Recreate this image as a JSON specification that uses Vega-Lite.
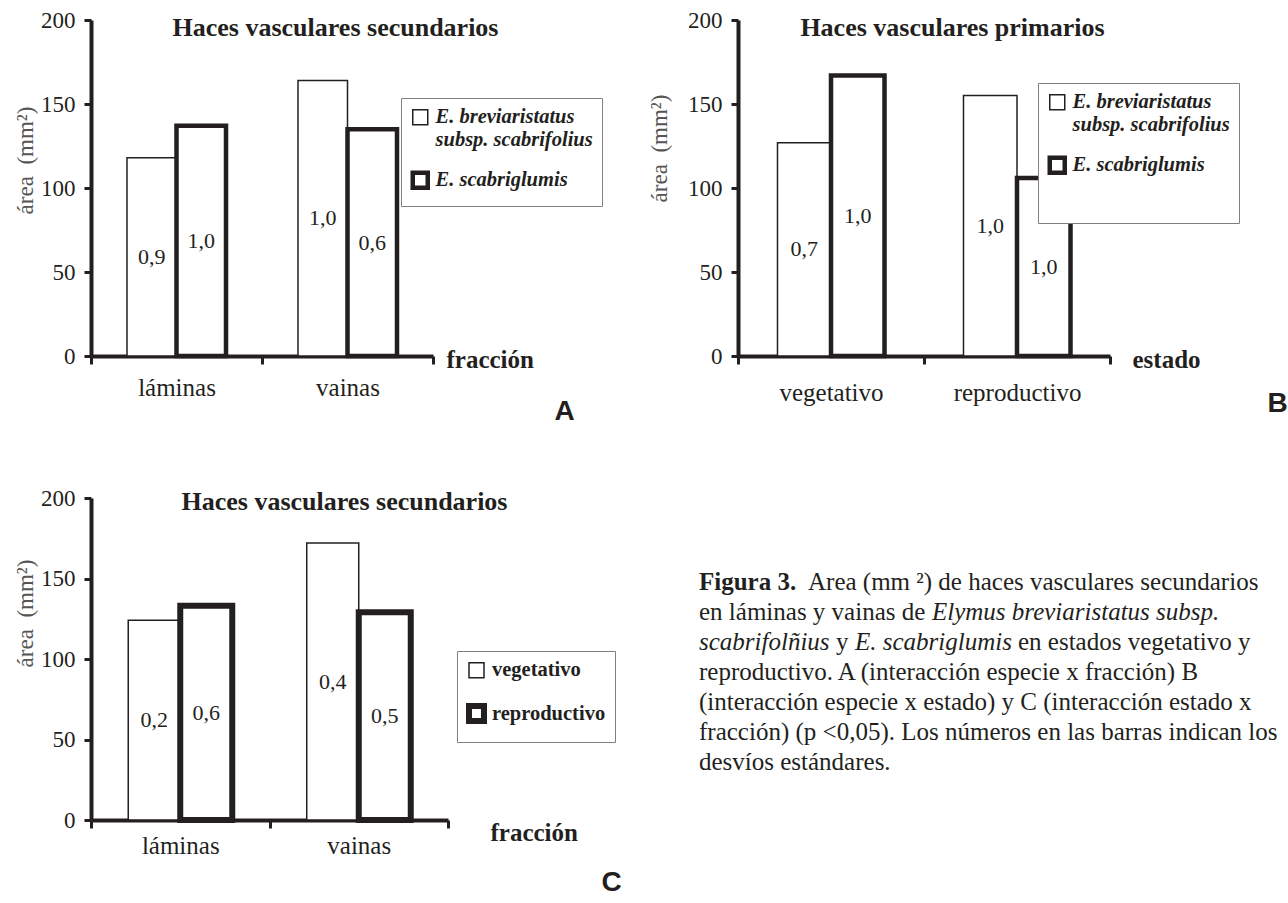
{
  "$schema": "https://vega.github.io/schema/vega-lite/v6.json",
  "background": "white",
  "autosize": {"type": "pad"},
  "padding": {"left": 14, "top": 9, "right": 0, "bottom": 0},
  "config": {
    "view": {"stroke": null},
    "font": "Liberation Serif",
    "axis": {
      "grid": false,
      "domainColor": "#231f20",
      "domainWidth": 4,
      "tickColor": "#231f20",
      "tickWidth": 3,
      "labelFont": "Liberation Serif",
      "labelColor": "#231f20",
      "titleFont": "Liberation Serif",
      "titleColor": "#231f20"
    },
    "axisY": {"tickSize": 7, "labelFontSize": 23, "labelPadding": 9},
    "axisX": {
      "labelAngle": 0,
      "labelFontSize": 25,
      "labelBaseline": "middle",
      "tickBand": "extent",
      "tickSize": 8,
      "titleFontSize": 25,
      "titleFontWeight": "bold",
      "titleAlign": "left",
      "titleBaseline": "middle"
    },
    "legend": {
      "orient": "none",
      "symbolType": "square",
      "symbolSize": 225,
      "symbolFillColor": "white",
      "labelFont": "Liberation Serif",
      "labelFontSize": 20.5,
      "labelFontWeight": "bold",
      "labelColor": "#231f20",
      "labelOffset": 5,
      "labelLimit": 400,
      "strokeColor": "#808080",
      "fillColor": "white",
      "padding": 9,
      "rowPadding": 12
    },
    "text": {"font": "Liberation Serif", "fontSize": 25, "color": "#231f20", "align": "left", "baseline": "middle"}
  },
  "datasets": {
    "A": [
      {"categoria": "láminas", "serie": "E. breviaristatus subsp. scabrifolius", "area": 118, "de": "0,9"},
      {"categoria": "láminas", "serie": "E. scabriglumis", "area": 137, "de": "1,0"},
      {"categoria": "vainas", "serie": "E. breviaristatus subsp. scabrifolius", "area": 164, "de": "1,0"},
      {"categoria": "vainas", "serie": "E. scabriglumis", "area": 135, "de": "0,6"}
    ],
    "B": [
      {"categoria": "vegetativo", "serie": "E. breviaristatus subsp. scabrifolius", "area": 127, "de": "0,7"},
      {"categoria": "vegetativo", "serie": "E. scabriglumis", "area": 167, "de": "1,0"},
      {"categoria": "reproductivo", "serie": "E. breviaristatus subsp. scabrifolius", "area": 155, "de": "1,0"},
      {"categoria": "reproductivo", "serie": "E. scabriglumis", "area": 106, "de": "1,0"}
    ],
    "C": [
      {"categoria": "láminas", "serie": "vegetativo", "area": 124, "de": "0,2"},
      {"categoria": "láminas", "serie": "reproductivo", "area": 133, "de": "0,6"},
      {"categoria": "vainas", "serie": "vegetativo", "area": 172, "de": "0,4"},
      {"categoria": "vainas", "serie": "reproductivo", "area": 129, "de": "0,5"}
    ],
    "cap_plain": [
      {"linea": 2, "texto": "en láminas y vainas de"},
      {"linea": 4, "texto": "reproductivo. A (interacción especie x fracción) B"},
      {"linea": 5, "texto": "(interacción especie x estado) y C (interacción estado x"},
      {"linea": 6, "texto": "fracción) (p <0,05). Los números en las barras indican los"},
      {"linea": 7, "texto": "desvíos estándares."}
    ],
    "cap_bold": [{"linea": 1, "texto": "Figura 3."}],
    "cap_l1": [{"linea": 1, "texto": "Area (mm ²) de haces vasculares secundarios"}],
    "cap_it2": [{"linea": 2, "texto": "Elymus breviaristatus subsp."}],
    "cap_it3a": [{"linea": 3, "texto": "scabrifolñius"}],
    "cap_y3": [{"linea": 3, "texto": "y"}],
    "cap_it3b": [{"linea": 3, "texto": "E. scabriglumis"}],
    "cap_end3": [{"linea": 3, "texto": "en estados vegetativo y"}]
  },
  "columns": 2,
  "spacing": {"row": 142, "column": 290},
  "bounds": "flush",
  "resolve": {
    "scale": {"strokeWidth": "independent", "stroke": "independent", "xOffset": "independent", "x": "independent", "y": "independent"},
    "legend": {"strokeWidth": "independent", "stroke": "independent"}
  },
  "concat": [
    {
      "width": 342,
      "height": 336,
      "data": {"name": "A"},
      "layer": [
        {
          "mark": {"type": "bar", "fill": "white"},
          "encoding": {
            "x": {"field": "categoria", "type": "nominal", "sort": ["láminas", "vainas"],
              "scale": {"paddingInner": 0, "paddingOuter": 0},
              "axis": {"title": "fracción", "labelPadding": 23, "titleX": 355, "titleY": 3}},
            "xOffset": {"field": "serie", "type": "nominal",
              "sort": ["E. breviaristatus subsp. scabrifolius", "E. scabriglumis"],
              "scale": {"paddingInner": 0, "paddingOuter": 0.727}},
            "y": {"field": "area", "type": "quantitative", "scale": {"domain": [0, 200]},
              "axis": {"values": [0, 50, 100, 150, 200], "title": "área\u00a0\u00a0(mm²)",
                "titleFontSize": 23, "titleFontWeight": "normal", "titleColor": "#555555",
                "titleBaseline": "middle", "titleAlign": "center", "titleAngle": 270,
                "titleX": -66, "titleY": 140}},
            "stroke": {"field": "serie", "type": "nominal",
              "scale": {"domain": ["E. breviaristatus subsp. scabrifolius", "E. scabriglumis"], "range": ["#231f20", "#231f20"]},
              "legend": {"title": null, "legendX": 310, "legendY": 78, "labelFontStyle": "italic",
                "labelExpr": "datum.label == 'E. breviaristatus subsp. scabrifolius' ? ['E. breviaristatus', 'subsp. scabrifolius'] : datum.label"}},
            "strokeWidth": {"field": "serie", "type": "nominal",
              "scale": {"domain": ["E. breviaristatus subsp. scabrifolius", "E. scabriglumis"], "range": [1.5, 4.5]},
              "legend": {"title": null, "legendX": 310, "legendY": 78, "labelFontStyle": "italic",
                "labelExpr": "datum.label == 'E. breviaristatus subsp. scabrifolius' ? ['E. breviaristatus', 'subsp. scabrifolius'] : datum.label"}}
          }
        },
        {
          "mark": {"type": "text", "fontSize": 22, "align": "center"},
          "encoding": {
            "x": {"field": "categoria", "type": "nominal", "sort": ["láminas", "vainas"],
              "axis": {"orient": "top", "domain": false, "ticks": false, "labels": false,
                "title": "Haces vasculares secundarios", "titleFontSize": 26, "titleFontWeight": "bold",
                "titleAlign": "center", "titleX": 244, "titleY": 7}},
            "xOffset": {"field": "serie", "type": "nominal",
              "sort": ["E. breviaristatus subsp. scabrifolius", "E. scabriglumis"]},
            "y": {"field": "area", "type": "quantitative", "scale": {"domain": [0, 400]},
              "axis": {"orient": "right", "domain": false, "ticks": false, "labels": false, "title": "A",
                "titleFont": "Liberation Sans", "titleFontSize": 28, "titleFontWeight": "bold", "titleColor": "#231f20",
                "titleAngle": 0.01, "titleAlign": "center", "titleBaseline": "middle", "titleX": 131, "titleY": 392}},
            "text": {"field": "de"}
          }
        }
      ],
      "resolve": {"scale": {"y": "independent"}, "axis": {"x": "independent", "y": "independent"}}
    },
    {
      "width": 372,
      "height": 336,
      "data": {"name": "B"},
      "layer": [
        {
          "mark": {"type": "bar", "fill": "white"},
          "encoding": {
            "x": {"field": "categoria", "type": "nominal", "sort": ["vegetativo", "reproductivo"],
              "scale": {"paddingInner": 0, "paddingOuter": 0},
              "axis": {"title": "estado", "labelPadding": 28, "titleX": 394, "titleY": 3}},
            "xOffset": {"field": "serie", "type": "nominal",
              "sort": ["E. breviaristatus subsp. scabrifolius", "E. scabriglumis"],
              "scale": {"paddingInner": 0, "paddingOuter": 0.738}},
            "y": {"field": "area", "type": "quantitative", "scale": {"domain": [0, 200]},
              "axis": {"values": [0, 50, 100, 150, 200], "title": "área\u00a0\u00a0(mm²)",
                "titleFontSize": 23, "titleFontWeight": "normal", "titleColor": "#555555",
                "titleBaseline": "middle", "titleAlign": "center", "titleAngle": 270,
                "titleX": -79, "titleY": 128}},
            "stroke": {"field": "serie", "type": "nominal",
              "scale": {"domain": ["E. breviaristatus subsp. scabrifolius", "E. scabriglumis"], "range": ["#231f20", "#231f20"]},
              "legend": {"legendX": 300, "legendY": 63, "labelFontStyle": "italic",
                "title": "\u00a0", "titleOrient": "bottom", "titleFontSize": 18, "titlePadding": 14,
                "labelExpr": "datum.label == 'E. breviaristatus subsp. scabrifolius' ? ['E. breviaristatus', 'subsp. scabrifolius'] : datum.label"}},
            "strokeWidth": {"field": "serie", "type": "nominal",
              "scale": {"domain": ["E. breviaristatus subsp. scabrifolius", "E. scabriglumis"], "range": [1.5, 4.5]},
              "legend": {"legendX": 300, "legendY": 63, "labelFontStyle": "italic",
                "title": "\u00a0", "titleOrient": "bottom", "titleFontSize": 18, "titlePadding": 14,
                "labelExpr": "datum.label == 'E. breviaristatus subsp. scabrifolius' ? ['E. breviaristatus', 'subsp. scabrifolius'] : datum.label"}}
          }
        },
        {
          "mark": {"type": "text", "fontSize": 22, "align": "center"},
          "encoding": {
            "x": {"field": "categoria", "type": "nominal", "sort": ["vegetativo", "reproductivo"],
              "axis": {"orient": "top", "domain": false, "ticks": false, "labels": false,
                "title": "Haces vasculares primarios", "titleFontSize": 26, "titleFontWeight": "bold",
                "titleAlign": "center", "titleX": 214, "titleY": 7}},
            "xOffset": {"field": "serie", "type": "nominal",
              "sort": ["E. breviaristatus subsp. scabrifolius", "E. scabriglumis"]},
            "y": {"field": "area", "type": "quantitative", "scale": {"domain": [0, 400]},
              "axis": {"orient": "right", "domain": false, "ticks": false, "labels": false, "title": "B",
                "titleFont": "Liberation Sans", "titleFontSize": 28, "titleFontWeight": "bold", "titleColor": "#231f20",
                "titleAngle": 0.01, "titleAlign": "center", "titleBaseline": "middle", "titleX": 167, "titleY": 384}},
            "text": {"field": "de"}
          }
        }
      ],
      "resolve": {"scale": {"y": "independent"}, "axis": {"x": "independent", "y": "independent"}}
    },
    {
      "width": 357,
      "height": 322,
      "data": {"name": "C"},
      "layer": [
        {
          "mark": {"type": "bar", "fill": "white"},
          "encoding": {
            "x": {"field": "categoria", "type": "nominal", "sort": ["láminas", "vainas"],
              "scale": {"paddingInner": 0, "paddingOuter": 0},
              "axis": {"title": "fracción", "labelPadding": 17, "titleX": 399, "titleY": 12}},
            "xOffset": {"field": "serie", "type": "nominal",
              "sort": ["vegetativo", "reproductivo"],
              "scale": {"paddingInner": 0, "paddingOuter": 0.716}},
            "y": {"field": "area", "type": "quantitative", "scale": {"domain": [0, 200]},
              "axis": {"values": [0, 50, 100, 150, 200], "title": "área\u00a0\u00a0(mm²)",
                "titleFontSize": 23, "titleFontWeight": "normal", "titleColor": "#555555",
                "titleBaseline": "middle", "titleAlign": "center", "titleAngle": 270,
                "titleX": -66, "titleY": 115}},
            "stroke": {"field": "serie", "type": "nominal",
              "scale": {"domain": ["vegetativo", "reproductivo"], "range": ["#231f20", "#231f20"]},
              "legend": {"title": null, "legendX": 366, "legendY": 153, "rowPadding": 13}},
            "strokeWidth": {"field": "serie", "type": "nominal",
              "scale": {"domain": ["vegetativo", "reproductivo"], "range": [1.5, 6]},
              "legend": {"title": null, "legendX": 366, "legendY": 153, "rowPadding": 13}}
          }
        },
        {
          "mark": {"type": "text", "fontSize": 22, "align": "center"},
          "encoding": {
            "x": {"field": "categoria", "type": "nominal", "sort": ["láminas", "vainas"],
              "axis": {"orient": "top", "domain": false, "ticks": false, "labels": false,
                "title": "Haces vasculares secundarios", "titleFontSize": 26, "titleFontWeight": "bold",
                "titleAlign": "center", "titleX": 253, "titleY": 3}},
            "xOffset": {"field": "serie", "type": "nominal", "sort": ["vegetativo", "reproductivo"]},
            "y": {"field": "area", "type": "quantitative", "scale": {"domain": [0, 400]},
              "axis": {"orient": "right", "domain": false, "ticks": false, "labels": false, "title": "C",
                "titleFont": "Liberation Sans", "titleFontSize": 28, "titleFontWeight": "bold", "titleColor": "#231f20",
                "titleAngle": 0.01, "titleAlign": "center", "titleBaseline": "middle", "titleX": 163, "titleY": 385}},
            "text": {"field": "de"}
          }
        }
      ],
      "resolve": {"scale": {"y": "independent"}, "axis": {"x": "independent", "y": "independent"}}
    },
    {
      "width": 551,
      "height": 322,
      "encoding": {
        "x": {"datum": 0, "type": "quantitative", "scale": {"domain": [0, 1]}, "axis": null},
        "y": {"field": "linea", "type": "quantitative", "scale": {"domain": [-1.8, 8.933], "reverse": true}, "axis": null},
        "text": {"field": "texto"}
      },
      "layer": [
        {"data": {"name": "cap_plain"}, "mark": {"type": "text", "dx": -39}},
        {"data": {"name": "cap_bold"}, "mark": {"type": "text", "dx": -39, "fontWeight": "bold"}},
        {"data": {"name": "cap_l1"}, "mark": {"type": "text", "dx": 70}},
        {"data": {"name": "cap_it2"}, "mark": {"type": "text", "dx": 194, "fontStyle": "italic"}},
        {"data": {"name": "cap_it3a"}, "mark": {"type": "text", "dx": -39, "fontStyle": "italic"}},
        {"data": {"name": "cap_y3"}, "mark": {"type": "text", "dx": 98}},
        {"data": {"name": "cap_it3b"}, "mark": {"type": "text", "dx": 117, "fontStyle": "italic"}},
        {"data": {"name": "cap_end3"}, "mark": {"type": "text", "dx": 280}}
      ]
    }
  ]
}
